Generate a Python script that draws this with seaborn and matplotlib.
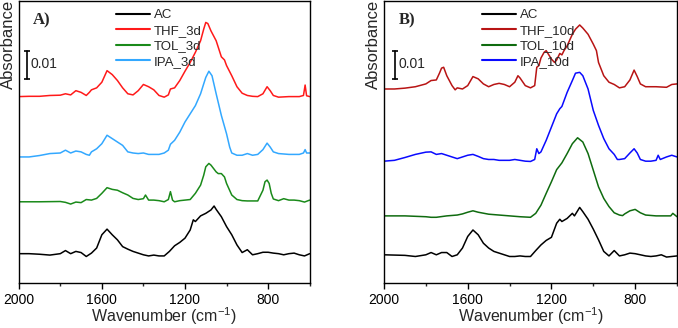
import matplotlib
matplotlib.use('Agg')
import matplotlib.pyplot as plt
import pandas as pd
import seaborn as sns
from matplotlib.ticker import MultipleLocator

"""
FTIR spectra, stacked (A: 3 days, B: 10 days)
values in 1e-3 absorbance units, offsets included
"""

sns.set_style('ticks')
plt.rcParams['font.family'] = ['Liberation Sans', 'DejaVu Sans']
plt.rcParams['mathtext.default'] = 'regular'

# ---- panel A ----
wn_ac_a = [2000, 1950, 1900, 1850, 1800, 1775, 1750, 1725, 1700, 1675, 1650, 1625, 1600, 1575, 1550,
           1525, 1500, 1475, 1450, 1425, 1400, 1375, 1350, 1325, 1300, 1275, 1250, 1225, 1200, 1175,
           1160, 1150, 1125, 1100, 1075, 1060, 1050, 1025, 1000, 975, 950, 925, 900, 875, 850,
           825, 800, 775, 750, 725, 700, 675, 650, 625, 600]
ac_a = [10.4, 10.4, 10.2, 9.9, 10.4, 11.5, 10.4, 11.2, 10.8, 9.4, 10.6, 12.4, 17.1, 19.1, 17.1,
        15.3, 12.9, 12.0, 11.2, 10.6, 10.0, 9.6, 9.9, 9.6, 9.6, 11.2, 13.2, 14.4, 15.9, 18.8,
        22.4, 21.8, 23.8, 24.7, 25.9, 27.3, 26.1, 23.5, 20.0, 17.1, 13.5, 10.8, 11.8, 10.0, 10.4,
        10.9, 10.9, 10.6, 10.4, 10.0, 10.4, 10.6, 10.0, 9.6, 10.4]

wn_tol_a = [2000, 1900, 1800, 1775, 1750, 1725, 1700, 1675, 1650, 1625, 1600, 1575, 1550, 1525, 1500,
            1475, 1450, 1425, 1400, 1390, 1375, 1350, 1325, 1300, 1280, 1270, 1260, 1250, 1225, 1200,
            1175, 1150, 1125, 1110, 1100, 1085, 1075, 1050, 1040, 1025, 1010, 1000, 975, 950, 925,
            900, 875, 850, 825, 815, 805, 795, 785, 775, 750, 725, 700, 675, 650, 625, 600]
tol_a = [28.8, 28.8, 28.9, 28.6, 28.0, 28.7, 28.5, 29.6, 29.4, 30.0, 31.8, 33.8, 33.2, 32.9, 32.0,
         31.2, 30.0, 29.6, 29.9, 31.2, 29.4, 29.4, 29.2, 28.8, 29.6, 32.4, 29.4, 28.8, 29.2, 29.4,
         29.6, 31.8, 34.7, 38.2, 41.2, 42.4, 41.8, 39.4, 38.8, 38.8, 37.6, 35.3, 31.2, 29.6, 29.2,
         29.1, 29.1, 29.1, 32.9, 35.9, 36.5, 35.3, 31.8, 29.8, 29.2, 29.9, 29.4, 29.4, 29.2, 28.7, 29.4]

wn_ipa_a = [2000, 1950, 1900, 1850, 1800, 1775, 1750, 1725, 1700, 1675, 1660, 1650, 1625, 1600, 1575,
            1550, 1525, 1500, 1475, 1450, 1425, 1400, 1375, 1350, 1325, 1300, 1280, 1270, 1250, 1225,
            1200, 1175, 1150, 1125, 1110, 1100, 1085, 1070, 1050, 1025, 1000, 985, 975, 950, 925,
            900, 875, 850, 825, 805, 790, 775, 750, 700, 650, 630, 622, 615, 600]
ipa_a = [44.7, 44.7, 45.2, 45.9, 46.1, 47.1, 46.1, 46.8, 46.5, 45.6, 45.3, 46.5, 47.6, 49.4, 52.4,
         51.2, 50.0, 48.8, 46.5, 46.1, 45.9, 46.1, 45.6, 45.6, 45.6, 46.1, 47.1, 49.2, 50.6, 53.5,
         57.1, 60.0, 62.9, 67.1, 70.6, 72.9, 75.1, 73.5, 67.1, 59.4, 52.9, 48.2, 46.1, 45.3, 45.3,
         45.9, 45.3, 45.6, 47.3, 49.6, 48.2, 46.5, 45.9, 45.6, 45.6, 46.1, 47.3, 46.1, 46.1]

wn_thf_a = [2000, 1950, 1900, 1850, 1800, 1775, 1750, 1725, 1700, 1675, 1660, 1650, 1625, 1600, 1575,
            1550, 1525, 1500, 1475, 1450, 1425, 1400, 1375, 1350, 1325, 1300, 1280, 1270, 1250, 1225,
            1200, 1175, 1150, 1125, 1110, 1100, 1090, 1075, 1050, 1025, 1010, 1000, 975, 950, 925,
            900, 875, 850, 825, 805, 790, 775, 750, 700, 650, 630, 622, 615, 600]
thf_a = [66.1, 66.2, 66.2, 66.5, 66.6, 67.1, 66.7, 68.2, 67.6, 66.5, 67.6, 68.5, 69.2, 71.2, 75.3,
         73.9, 71.8, 69.2, 67.1, 66.7, 68.2, 70.4, 69.6, 68.5, 66.5, 65.9, 66.7, 68.8, 69.2, 71.8,
         75.1, 78.2, 81.8, 85.9, 90.0, 92.4, 92.0, 89.4, 85.9, 80.2, 79.1, 77.1, 73.5, 69.6, 67.3,
         66.5, 66.2, 66.1, 67.1, 69.6, 68.2, 66.5, 65.9, 66.1, 66.1, 66.5, 70.2, 66.4, 66.1]

# ---- panel B ----
wn_ac_b = [2000, 1900, 1850, 1800, 1775, 1750, 1725, 1700, 1675, 1650, 1625, 1600, 1575, 1550, 1525,
           1500, 1475, 1450, 1425, 1400, 1375, 1350, 1325, 1300, 1275, 1250, 1225, 1200, 1175, 1160,
           1150, 1125, 1100, 1090, 1075, 1065, 1050, 1025, 1000, 975, 950, 925, 900, 875, 850,
           825, 800, 775, 750, 725, 700, 675, 650, 625, 600]
ac_b = [10.0, 9.8, 9.4, 10.0, 10.8, 10.0, 10.8, 10.8, 9.4, 10.0, 12.4, 16.5, 18.8, 17.1, 14.1,
        12.4, 11.2, 10.6, 10.0, 9.4, 9.4, 9.6, 9.4, 9.4, 11.5, 13.5, 15.1, 16.2, 21.2, 22.6,
        21.8, 22.9, 24.7, 23.8, 25.6, 26.8, 25.3, 22.6, 19.1, 15.3, 11.2, 9.6, 11.5, 9.6, 10.0,
        10.6, 10.4, 10.0, 9.6, 9.4, 9.6, 10.0, 9.2, 9.4, 9.6]

wn_tol_b = [2000, 1900, 1800, 1775, 1750, 1700, 1650, 1625, 1600, 1575, 1550, 1500, 1450, 1400, 1350,
            1300, 1275, 1250, 1225, 1200, 1175, 1150, 1125, 1100, 1075, 1050, 1025, 1000, 975, 950,
            925, 900, 875, 860, 850, 825, 800, 775, 750, 700, 650, 630, 620, 600]
tol_b = [23.8, 23.8, 23.5, 23.3, 23.3, 23.8, 24.1, 24.5, 25.1, 25.6, 25.1, 24.4, 24.1, 23.8, 23.5,
         23.3, 24.7, 27.6, 31.8, 35.9, 40.2, 42.6, 45.9, 49.4, 51.5, 50.0, 45.9, 40.0, 34.1, 30.0,
         27.1, 24.9, 24.1, 23.9, 24.5, 25.6, 26.1, 24.9, 24.1, 23.8, 23.8, 23.8, 24.7, 23.5]

wn_ipa_b = [2000, 1950, 1900, 1850, 1800, 1775, 1750, 1725, 1700, 1675, 1650, 1625, 1600, 1575, 1550,
            1525, 1500, 1475, 1450, 1425, 1400, 1375, 1350, 1325, 1300, 1280, 1270, 1260, 1250, 1225,
            1200, 1175, 1160, 1150, 1125, 1100, 1085, 1065, 1050, 1025, 1000, 975, 950, 925, 900,
            885, 875, 850, 825, 805, 790, 775, 750, 725, 700, 690, 680, 650, 625, 600]
ipa_b = [43.2, 43.5, 44.5, 45.6, 46.4, 46.5, 45.6, 45.9, 45.3, 44.7, 44.1, 44.7, 45.3, 45.6, 44.9,
         44.1, 43.8, 43.8, 43.5, 43.5, 43.5, 43.8, 43.5, 43.2, 43.1, 43.8, 47.6, 45.9, 46.5, 50.6,
         55.3, 60.0, 61.8, 62.6, 67.6, 71.8, 74.4, 74.7, 73.5, 68.8, 61.2, 55.9, 51.2, 47.6, 45.6,
         43.8, 43.8, 44.1, 46.1, 47.6, 46.1, 43.8, 43.2, 43.2, 43.5, 45.3, 43.8, 44.7, 45.3, 44.7]

wn_thf_b = [2000, 1950, 1900, 1850, 1800, 1775, 1750, 1735, 1725, 1715, 1700, 1675, 1660, 1650, 1625,
            1600, 1575, 1550, 1525, 1500, 1475, 1450, 1425, 1400, 1375, 1360, 1350, 1325, 1300, 1280,
            1270, 1260, 1250, 1235, 1225, 1210, 1200, 1185, 1175, 1160, 1150, 1140, 1125, 1100, 1085,
            1065, 1050, 1025, 1000, 985, 975, 950, 925, 900, 875, 850, 825, 805, 790, 775,
            750, 700, 650, 625, 600]
thf_b = [68.8, 68.8, 69.1, 69.6, 70.6, 71.8, 72.0, 74.4, 76.2, 76.5, 73.5, 70.0, 68.5, 69.2, 68.8,
         70.0, 73.2, 72.4, 70.6, 69.6, 70.4, 70.8, 70.4, 69.6, 71.2, 73.5, 72.7, 70.0, 69.2, 70.0,
         76.5, 77.1, 79.8, 81.8, 82.4, 80.6, 79.4, 78.2, 79.1, 81.4, 80.9, 82.4, 84.1, 88.2, 90.0,
         91.5, 90.4, 88.2, 84.7, 82.4, 78.2, 73.5, 71.2, 70.4, 69.2, 69.6, 72.0, 75.5, 73.2, 70.6,
         69.6, 69.6, 69.4, 70.4, 70.6]

labels_a = ['AC', 'THF_3d', 'TOL_3d', 'IPA_3d']
labels_b = ['AC', 'THF_10d', 'TOL_10d', 'IPA_10d']
colors_a = ['#000000', '#ff1a1a', '#1a8a1a', '#33a8ff']
colors_b = ['#000000', '#b81414', '#0f6b0f', '#0a0aff']


def to_frame(series, labels):
    parts = []
    for (wn, vals), name in zip(series, labels):
        d = pd.DataFrame({'wn': wn, 'absorbance': [v / 1000 for v in vals]})
        d['sample'] = name
        parts.append(d)
    return pd.concat(parts, ignore_index=True)


df_a = to_frame([(wn_ac_a, ac_a), (wn_thf_a, thf_a), (wn_tol_a, tol_a), (wn_ipa_a, ipa_a)], labels_a)
df_b = to_frame([(wn_ac_b, ac_b), (wn_thf_b, thf_b), (wn_tol_b, tol_b), (wn_ipa_b, ipa_b)], labels_b)

fig = plt.figure(figsize=(6.78, 3.28), dpi=100)
ax_a = fig.add_axes([18.7 / 678, 45 / 328, 291 / 678, 282 / 328])
ax_b = fig.add_axes([384 / 678, 45 / 328, 293 / 678, 282 / 328])


def draw_panel(ax, df, labels, colors, tag, bar_x, txt_x, ylab_x):
    sns.lineplot(data=df, x='wn', y='absorbance', hue='sample', hue_order=labels,
                 palette=colors, estimator=None, sort=True, lw=1.1, ax=ax)
    ax.set_xlim(2000, 600)
    ax.set_ylim(0, 0.1)
    ax.xaxis.set_major_locator(MultipleLocator(400))
    ax.xaxis.set_minor_locator(MultipleLocator(200))
    ax.tick_params(axis='x', which='major', direction='out', length=4, width=1,
                   labelsize=10, pad=3, colors='black')
    ax.tick_params(axis='x', which='minor', direction='out', length=2.5, width=1)
    ax.set_yticks([])
    ax.set_ylabel('')
    ax.set_xlabel('Wavenumber (cm$^{-1}$)', fontsize=11.5, labelpad=-1)
    for s in ax.spines.values():
        s.set_visible(True)
        s.set_linewidth(1.0)
        s.set_color('black')

    sns.move_legend(ax, 'upper left', bbox_to_anchor=(0.315, 0.99), frameon=False,
                    title=None, fontsize=9.5, handlelength=2.6, handletextpad=0.3,
                    labelspacing=0.25, borderaxespad=0)
    for line in ax.get_legend().get_lines():
        line.set_linewidth(1.5)

    # 0.01 scale bar
    ax.plot([bar_x, bar_x], [0.0724, 0.0824], color='black', lw=1.2,
            marker='_', markersize=5, markeredgewidth=1.2)
    ax.text(txt_x, 0.0778, '0.01', fontsize=10, va='center', ha='left')

    ax.text(0.05, 0.93, tag, transform=ax.transAxes, fontsize=12, fontweight='bold',
            family='Liberation Serif', va='center', ha='left')
    fig.text(ylab_x, 1.0, 'Absorbance', rotation=90, fontsize=12, va='top', ha='center')


draw_panel(ax_a, df_a, labels_a, colors_a, 'A)', 1960, 1942, 8 / 678)
draw_panel(ax_b, df_b, labels_b, colors_b, 'B)', 1949, 1932, 373 / 678)

fig.savefig('out.png', dpi=100)
